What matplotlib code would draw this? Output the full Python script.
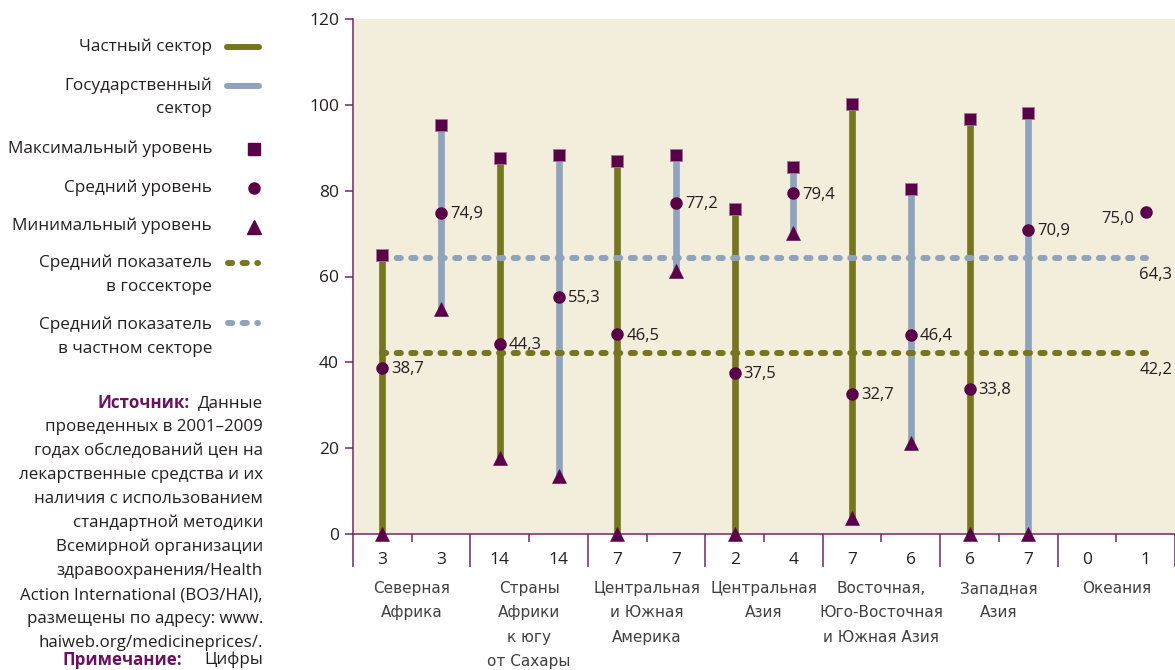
import matplotlib
matplotlib.use('Agg')
import matplotlib.pyplot as plt
import numpy as np

plt.rcParams['font.family'] = ['Open Sans', 'DejaVu Sans']

# data
regions = ['Северная\nАфрика', 'Страны\nАфрики\nк югу\nот Сахары',
           'Центральная\nи Южная\nАмерика', 'Центральная\nАзия',
           'Восточная,\nЮго-Восточная\nи Южная Азия', 'Западная\nАзия', 'Океания']
private_n = [3, 14, 7, 2, 7, 6, 0]
public_n = [3, 14, 7, 4, 6, 7, 1]
private_max = [65.0, 87.5, 86.9, 75.7, 100.3, 96.8, np.nan]
private_mean = [38.7, 44.3, 46.5, 37.5, 32.7, 33.8, np.nan]
private_min = [0.0, 17.8, 0.0, 0.0, 3.7, 0.0, np.nan]
public_max = [95.4, 88.3, 88.3, 85.5, 80.5, 98.2, np.nan]
public_mean = [74.9, 55.3, 77.2, 79.4, 46.4, 70.9, 75.0]
public_min = [52.5, 13.5, 61.2, 70.2, 21.3, 0.0, np.nan]
avg_public = 64.3
avg_private = 42.2

OLIVE = '#767520'
BLUE = '#8fa3bd'
PURPLE = '#5a0048'
AXIS = '#6e2a63'
BG = '#f3eddc'
TXT = '#231f20'
DOTS = (0.7, 1.75)

W, H = 1175, 670
fig = plt.figure(figsize=(W / 100, H / 100), dpi=100)
ax = fig.add_axes([353 / W, 1 - 534 / H, 1 - 353 / W, 515 / H])
ax.set_facecolor(BG)
ax.set_xlim(-0.5, 13.5)
ax.set_ylim(0, 120)

n = len(regions)
xp = np.arange(n) * 2
xg = xp + 1


def fmt(v):
    return f'{v:.1f}'.replace('.', ',')


for xs, lo, hi, mean, col in [(xp, private_min, private_max, private_mean, OLIVE),
                              (xg, public_min, public_max, public_mean, BLUE)]:
    for x, a, b in zip(xs, lo, hi):
        if not np.isnan(a):
            ax.plot([x, x], [a, b], color=col, lw=4.8, solid_capstyle='butt', zorder=2)
    ax.plot(xs, hi, 's', ms=9.2, color=PURPLE, mec='#a07a98', mew=0.6, zorder=5)
    ax.plot(xs, lo, '^', ms=10, color=PURPLE, mec=PURPLE, mew=0.4, zorder=5, clip_on=False)
    ax.plot(xs, mean, 'o', ms=9, color=PURPLE, mew=0, zorder=5)
    for x, m in zip(xs, mean):
        if np.isnan(m):
            continue
        if x == xg[-1]:
            ax.annotate(fmt(m), (x, m), xytext=(-8, -5), textcoords='offset points',
                        ha='right', va='center', fontsize=12, color=TXT)
        else:
            ax.annotate(fmt(m), (x, m), xytext=(6.5, -1), textcoords='offset points',
                        ha='left', va='center', fontsize=12, color=TXT)

# average lines
for val, col in [(avg_public, BLUE), (avg_private, OLIVE)]:
    ax.plot([0, 13], [val, val], color=col, lw=4.3, dash_capstyle='round',
            dashes=DOTS, zorder=3)
    ax.annotate(fmt(val), (13, val), xytext=(19, -12), textcoords='offset points',
                ha='right', va='center', fontsize=12, color=TXT)

# axes styling
for s in ['top', 'right']:
    ax.spines[s].set_visible(False)
ax.spines['left'].set_color(AXIS)
ax.spines['bottom'].set_color(AXIS)
ax.spines['left'].set_linewidth(1.1)
ax.spines['bottom'].set_linewidth(1.1)
ax.set_yticks(np.arange(0, 121, 20))
ax.tick_params(axis='y', colors=AXIS, length=6, width=1.1, labelcolor=TXT,
               labelsize=12.5, pad=4)
ax.set_xticks(np.arange(-0.5, 14, 2))
ax.set_xticks(np.arange(0.5, 14, 2), minor=True)
ax.tick_params(axis='x', which='major', colors=AXIS, length=24, width=1.1, labelbottom=False)
ax.tick_params(axis='x', which='minor', colors=AXIS, length=6, width=1.1, labelbottom=False)

tr = ax.get_xaxis_transform()
for i in range(n):
    ax.text(xp[i], -0.051, str(private_n[i]), transform=tr, ha='center', va='center',
            fontsize=12.5, color=TXT)
    ax.text(xg[i], -0.051, str(public_n[i]), transform=tr, ha='center', va='center',
            fontsize=12.5, color=TXT)
    ax.text(xp[i] + 0.5, -0.091, regions[i], transform=tr, ha='center', va='top',
            fontsize=11, color='#404040', linespacing=1.78,
            family=['Liberation Sans Narrow', 'DejaVu Sans'])

# left panel: legend and source note, in pixel coordinates
ov = fig.add_axes([0, 0, 1, 1], zorder=-1)
ov.set_xlim(0, W)
ov.set_ylim(H, 0)
ov.axis('off')

leg_txt = [('Частный сектор', 47), ('Государственный', 86), ('сектор', 109),
           ('Максимальный уровень', 149), ('Средний уровень', 188),
           ('Минимальный уровень', 226), ('Средний показатель', 263),
           ('в госсекторе', 287), ('Средний показатель', 325),
           ('в частном секторе', 349)]
for t, y in leg_txt:
    ov.text(212, y, t, ha='right', va='center', fontsize=12.3, color=TXT)
ov.plot([227, 259], [47, 47], color=OLIVE, lw=4.3, solid_capstyle='round')
ov.plot([227, 259], [86, 86], color=BLUE, lw=4.3, solid_capstyle='round')
ov.plot([254], [149], 's', ms=8, color=PURPLE)
ov.plot([254], [188], 'o', ms=8, color=PURPLE)
ov.plot([254], [227], '^', ms=10, color=PURPLE)
ov.plot([228, 258], [263, 263], color=OLIVE, lw=4.3, dash_capstyle='round', dashes=DOTS)
ov.plot([228, 258], [323, 323], color=BLUE, lw=4.3, dash_capstyle='round', dashes=DOTS)

ov.text(190, 403, 'Источник:', ha='right', va='center', fontsize=12.2,
        fontweight='bold', color='#6b1060')
ov.text(263, 403, 'Данные', ha='right', va='center', fontsize=12.2, color=TXT)
src_lines = ['проведенных в 2001–2009', 'годах обследований цен на',
             'лекарственные средства и их', 'наличия с использованием',
             'стандартной методики', 'Всемирной организации',
             'здравоохранения/Health', 'Action International (ВОЗ/HAI),',
             'размещены по адресу: www.', 'haiweb.org/medicineprices/.']
for k, t in enumerate(src_lines):
    ov.text(263, 427 + 24 * k, t, ha='right', va='center', fontsize=12.2, color=TXT)
ov.text(182, 660, 'Примечание:', ha='right', va='center', fontsize=12.2,
        fontweight='bold', color='#6b1060')
ov.text(263, 660, 'Цифры', ha='right', va='center', fontsize=12.2, color=TXT)

fig.savefig('out.png', dpi=100, facecolor='white')
